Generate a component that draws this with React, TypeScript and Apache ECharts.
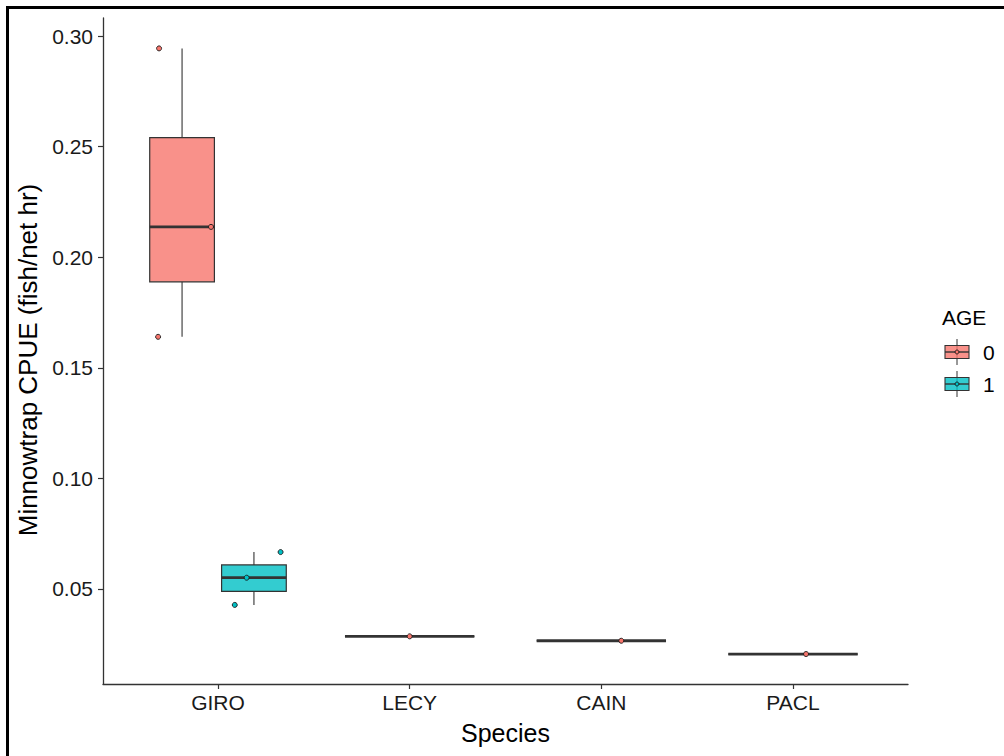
import React, { useEffect, useRef } from "react";
import * as echarts from "echarts";

const categories = ["GIRO", "LECY", "CAIN", "PACL"];
const ageLabels = ["0", "1"];
const ageColors = ["#F8766D", "#00BFC4"];
const ageFills = ["rgba(248,118,109,0.8)", "rgba(0,191,196,0.8)"];

// observed CPUE values by species (index matches categories)
const age0Values = [[0.164, 0.2137, 0.2944], [0.0286], [0.0266], [0.0206]];
const age1Values = [[0.0428, 0.0551, 0.0667], [], [], []];
// horizontal jitter of each observed point (category units)
const age0Jitter = [[-0.125, 0.151, -0.12], [0.0], [0.104], [0.068]];
const age1Jitter = [[-0.1, -0.038, 0.139], [], [], []];

const yTicks = [0.05, 0.1, 0.15, 0.2, 0.25, 0.3];
const xTicks = [0, 1, 2, 3];

const FONT = "Arial, 'Liberation Sans', Helvetica, sans-serif";

function quantile(sorted: number[], p: number) {
  const h = (sorted.length - 1) * p;
  const lo = Math.floor(h);
  const hi = Math.ceil(h);
  return sorted[lo] + (sorted[hi] - sorted[lo]) * (h - lo);
}

const groupsValues = [age0Values, age1Values];
const groupsJitter = [age0Jitter, age1Jitter];

function buildBoxes(g: number) {
  const boxes: number[][] = [];
  const points: number[][] = [];
  categories.forEach((_, ci) => {
    const present = groupsValues.map((gv, gi) => (gv[ci].length ? gi : -1)).filter((v) => v >= 0);
    const n = present.length;
    const slot = 0.75 / n;
    const idx = present.indexOf(g);
    if (idx < 0) return;
    const cx = ci - 0.375 + slot * (idx + 0.5);
    const width = slot * 0.9;
    const vals = [...groupsValues[g][ci]].sort((a, b) => a - b);
    boxes.push([
      cx,
      vals[0],
      quantile(vals, 0.25),
      quantile(vals, 0.5),
      quantile(vals, 0.75),
      vals[vals.length - 1],
      width,
    ]);
    groupsValues[g][ci].forEach((v, k) => {
      points.push([cx + groupsJitter[g][ci][k], v]);
    });
  });
  return { boxes, points };
}

function makeRender(fill: string) {
  return (params: any, api: any) => {
    const x = api.value(0);
    const pMin = api.coord([x, api.value(1)]);
    const pQ1 = api.coord([x, api.value(2)]);
    const pMed = api.coord([x, api.value(3)]);
    const pQ3 = api.coord([x, api.value(4)]);
    const pMax = api.coord([x, api.value(5)]);
    const half = api.size([api.value(6), 0])[0] / 2;
    const cx = pMed[0];
    return {
      type: "group",
      children: [
        { type: "line", shape: { x1: cx, y1: pMax[1], x2: cx, y2: pQ3[1] }, style: { stroke: "#333333", lineWidth: 1.1 } },
        { type: "line", shape: { x1: cx, y1: pQ1[1], x2: cx, y2: pMin[1] }, style: { stroke: "#333333", lineWidth: 1.1 } },
        {
          type: "rect",
          shape: { x: cx - half, y: pQ3[1], width: half * 2, height: pQ1[1] - pQ3[1] },
          style: { fill, stroke: "#333333", lineWidth: 1.2 },
        },
        { type: "line", shape: { x1: cx - half, y1: pMed[1], x2: cx + half, y2: pMed[1] }, style: { stroke: "#333333", lineWidth: 2.8 } },
      ],
    };
  };
}

function legendKey(y: number, gi: number) {
  const x0 = 945, x1 = 969, cx = 957;
  return [
    { type: "line", shape: { x1: cx, y1: y - 13, x2: cx, y2: y + 13 }, style: { stroke: "#333333", lineWidth: 1 } },
    { type: "rect", shape: { x: x0, y: y - 6.5, width: x1 - x0, height: 13 }, style: { fill: ageFills[gi], stroke: "#333333", lineWidth: 1.1 } },
    { type: "line", shape: { x1: x0, y1: y, x2: x1, y2: y }, style: { stroke: "#333333", lineWidth: 1.4 } },
    { type: "circle", shape: { cx, cy: y, r: 2 }, style: { fill: ageColors[gi], stroke: "#1a1a1a", lineWidth: 0.9 } },
    {
      type: "text",
      style: { text: ageLabels[gi], x: 983, y, fill: "#000000", font: `21px ${FONT}`, textVerticalAlign: "middle", textAlign: "left" },
    },
  ];
}

export default function App() {
  const ref = useRef<HTMLDivElement>(null);
  useEffect(() => {
    if (!ref.current) return;
    const chart = echarts.init(ref.current, null, { renderer: "svg" });
    const g0 = buildBoxes(0);
    const g1 = buildBoxes(1);
    chart.setOption({
      animation: false,
      backgroundColor: "#ffffff",
      grid: { left: 103, right: 96, top: 18, bottom: 72 },
      xAxis: {
        type: "value",
        min: -0.6,
        max: 3.6,
        name: "Species",
        nameLocation: "middle",
        nameGap: 36,
        nameTextStyle: { fontSize: 25, color: "#000000", fontFamily: FONT },
        splitLine: { show: false },
        axisLine: { show: true, onZero: false, lineStyle: { color: "#333333", width: 1.3 } },
        axisTick: { show: true, customValues: xTicks, length: 5, lineStyle: { color: "#333333", width: 1.2 } },
        axisLabel: {
          customValues: xTicks,
          formatter: (v: number) => categories[Math.round(v)] ?? "",
          fontSize: 21,
          color: "#1a1a1a",
          fontFamily: FONT,
          margin: 8,
        },
      },
      yAxis: {
        type: "value",
        min: 0.00705,
        max: 0.30814,
        name: "Minnowtrap CPUE (fish/net hr)",
        nameLocation: "middle",
        nameGap: 55,
        nameRotate: 90,
        nameTextStyle: { fontSize: 26, color: "#000000", fontFamily: FONT, padding: [0, 18, 0, 0] },
        splitLine: { show: false },
        axisLine: { show: true, onZero: false, lineStyle: { color: "#333333", width: 1.3 } },
        axisTick: { show: true, customValues: yTicks, length: 5, lineStyle: { color: "#333333", width: 1.2 } },
        axisLabel: {
          customValues: yTicks,
          formatter: (v: number) => v.toFixed(2),
          fontSize: 21,
          color: "#1a1a1a",
          fontFamily: FONT,
          margin: 10,
        },
      },
      series: [
        {
          name: "0",
          type: "custom",
          renderItem: makeRender(ageFills[0]),
          data: g0.boxes,
          encode: { x: 0, y: [1, 2, 3, 4, 5] },
          z: 2,
        },
        {
          name: "1",
          type: "custom",
          renderItem: makeRender(ageFills[1]),
          data: g1.boxes,
          encode: { x: 0, y: [1, 2, 3, 4, 5] },
          z: 2,
        },
        {
          name: "0 points",
          type: "scatter",
          data: g0.points,
          symbolSize: 5,
          itemStyle: { color: ageColors[0], borderColor: "#1a1a1a", borderWidth: 0.9, opacity: 1 },
          z: 5,
        },
        {
          name: "1 points",
          type: "scatter",
          data: g1.points,
          symbolSize: 5,
          itemStyle: { color: ageColors[1], borderColor: "#1a1a1a", borderWidth: 0.9, opacity: 1 },
          z: 5,
        },
      ],
      graphic: [
        { type: "line", shape: { x1: 6, y1: 7.5, x2: 1004, y2: 7.5 }, style: { stroke: "#000000", lineWidth: 3 } },
        { type: "line", shape: { x1: 7.5, y1: 6, x2: 7.5, y2: 756 }, style: { stroke: "#000000", lineWidth: 3 } },
        {
          type: "text",
          style: { text: "AGE", x: 942, y: 317, fill: "#000000", font: `21px ${FONT}`, textVerticalAlign: "middle", textAlign: "left" },
        },
        ...legendKey(352, 0),
        ...legendKey(384, 1),
      ],
    });
    return () => chart.dispose();
  }, []);
  return (
    <div
      ref={ref}
      style={{ position: "fixed", left: 0, top: 0, width: 1004, height: 756, background: "#ffffff" }}
    />
  );
}
